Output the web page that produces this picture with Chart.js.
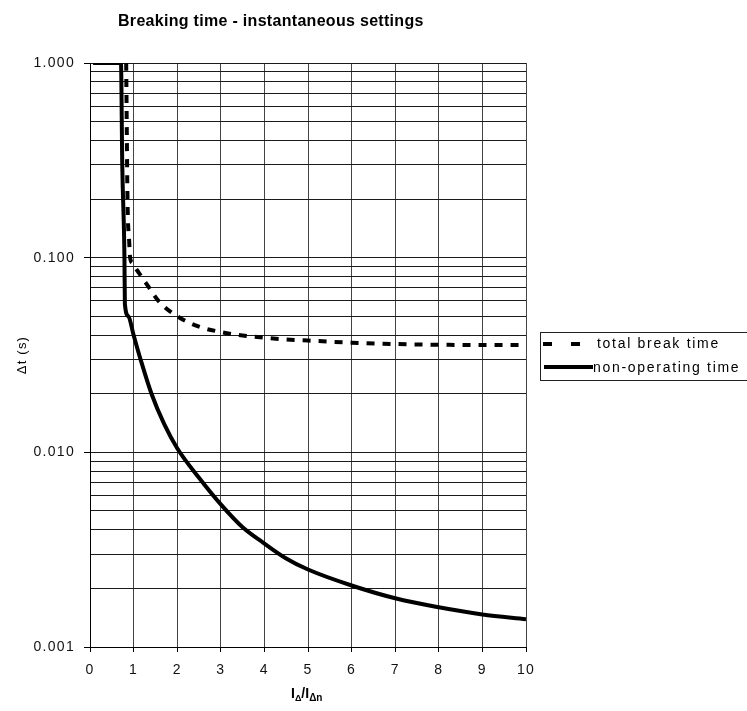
<!DOCTYPE html>
<html>
<head>
<meta charset="utf-8">
<title>Breaking time - instantaneous settings</title>
<script src="https://cdn.jsdelivr.net/npm/chart.js@4.4.1/dist/chart.umd.min.js"></script>
<style>
  html, body { margin:0; padding:0; background:#fff; overflow:hidden; }
  #breaking-chart { display:block; }
</style>
</head>
<body>
<canvas id="breaking-chart" width="747" height="711"></canvas>
<script>
// breaking time chart — log scale, two curves

const FONT = '"Liberation Sans", Arial, Helvetica, sans-serif';

// ── Data ──
const xBreak = [0.83, 0.86, 0.90, 0.92, 0.97, 1.05, 1.18, 1.36, 1.57, 2.0, 2.5, 3, 3.5, 4, 4.5, 5, 6, 7, 8, 9, 10];
const tBreak = [1.0, 0.2, 0.12, 0.1, 0.094, 0.088, 0.08, 0.07, 0.06, 0.05, 0.0442, 0.0415, 0.0398, 0.0388, 0.038, 0.0375, 0.0366, 0.036, 0.0357, 0.0356, 0.0356];

const xNonOp = [0.07, 0.71, 0.74, 0.79, 0.80, 0.88, 1.0, 1.16, 1.41, 1.7, 2, 2.5, 3, 3.5, 4, 4.5, 5, 6, 7, 8, 9, 10];
const tNonOp = [1.0, 1.0, 0.3, 0.1, 0.058, 0.05, 0.04, 0.03, 0.02, 0.014, 0.0105, 0.0074, 0.0054, 0.00412, 0.0034, 0.00285, 0.0025, 0.00207, 0.00178, 0.0016, 0.00147, 0.00139];

const seriesNames = ['total break time', 'non-operating time'];

// ── Axis ticks ──
const yGridValues = [
  0.001, 0.002, 0.003, 0.004, 0.005, 0.006, 0.007, 0.008, 0.009,
  0.01, 0.02, 0.03, 0.04, 0.05, 0.06, 0.07, 0.08, 0.09,
  0.1, 0.2, 0.3, 0.4, 0.5, 0.6, 0.7, 0.8, 0.9,
  1
];
const yMajorTicks = [0.001, 0.01, 0.1, 1];
const yTickLabels = ['0.001', '0.010', '0.100', '1.000'];
const xTickLabels = ['0', '1', '2', '3', '4', '5', '6', '7', '8', '9', '10'];

const toPoints = (xs, ys) => xs.map((x, i) => ({ x, y: ys[i] }));

// ── Extra drawing: title, axis titles, boxed legend ──
const decorPlugin = {
  id: 'decor',
  beforeDraw(chart) {
    // reference text is drawn wide, so space the tick glyphs a bit
    chart.ctx.letterSpacing = '1.3px';
  },
  afterDraw(chart) {
    const ctx = chart.ctx;
    ctx.save();
    ctx.fillStyle = '#000';

    // title
    ctx.letterSpacing = '0.3px';
    ctx.font = 'bold 16px ' + FONT;
    ctx.textAlign = 'left';
    ctx.textBaseline = 'middle';
    ctx.fillText('Breaking time - instantaneous settings', 118, 22);

    // y title
    ctx.save();
    ctx.letterSpacing = '1.2px';
    ctx.translate(22, 355);
    ctx.rotate(-Math.PI / 2);
    ctx.textAlign = 'center';
    ctx.font = '13px ' + FONT;
    ctx.fillText('\u0394t (s)', 0, 0);
    ctx.restore();

    // x title  I∆/I∆n
    ctx.letterSpacing = '0px';
    ctx.textBaseline = 'alphabetic';
    let x = 291;
    const base = 698;
    const part = (txt, font, dy) => { ctx.font = font; ctx.fillText(txt, x, base + dy); x += ctx.measureText(txt).width; };
    part('I', 'bold 14px ' + FONT, 0);
    part('\u0394', 'bold 9px ' + FONT, 3);
    part('/', 'bold 14px ' + FONT, 0);
    part('I', 'bold 14px ' + FONT, 0);
    part('\u0394n', 'bold 10px ' + FONT, 3);

    // legend box (runs off the right edge like the original)
    const lx = 540, ly = 332;
    ctx.strokeStyle = '#222';
    ctx.lineWidth = 1;
    ctx.strokeRect(lx + 0.5, ly + 0.5, 240, 48);

    ctx.strokeStyle = '#000';
    ctx.lineWidth = 4;
    ctx.lineCap = 'butt';
    ctx.setLineDash([9, 19]);
    ctx.beginPath(); ctx.moveTo(543, 344); ctx.lineTo(581, 344); ctx.stroke();
    ctx.setLineDash([]);
    ctx.beginPath(); ctx.moveTo(544, 367); ctx.lineTo(593, 367); ctx.stroke();

    ctx.letterSpacing = '1.7px';
    ctx.font = '14px ' + FONT;
    ctx.textBaseline = 'middle';
    ctx.fillText(seriesNames[0], 597, 344);
    ctx.fillText(seriesNames[1], 593, 368);
    ctx.restore();
  }
};

new Chart(document.getElementById('breaking-chart').getContext('2d'), {
  type: 'line',
  data: {
    datasets: [
      { label: seriesNames[0], data: toPoints(xBreak, tBreak), borderColor: '#000', borderWidth: 4,
        borderDash: [8, 8], borderCapStyle: 'butt', pointRadius: 0, fill: false, cubicInterpolationMode: 'monotone' },
      { label: seriesNames[1], data: toPoints(xNonOp, tNonOp), borderColor: '#000', borderWidth: 4,
        pointRadius: 0, fill: false, cubicInterpolationMode: 'monotone' },
    ]
  },
  options: {
    responsive: false,
    animation: false,
    layout: { padding: { left: 0, top: 63, right: 221, bottom: 0 } },
    plugins: { legend: { display: false }, title: { display: false }, tooltip: { enabled: false } },
    scales: {
      x: {
        type: 'linear', min: 0, max: 10,
        afterFit: s => { s.height = 64; },
        afterBuildTicks: s => { s.ticks = xTickLabels.map(v => ({ value: Number(v) })); },
        ticks: { autoSkip: false, maxRotation: 0, padding: 10, color: '#111', font: { size: 14, family: FONT },
                 callback: (v, i) => xTickLabels[i] },
        grid: { color: '#444', lineWidth: 1, tickLength: 5, tickColor: '#000' },
        border: { color: '#000', width: 1 },
      },
      y: {
        type: 'logarithmic', min: 0.001, max: 1,
        afterFit: s => { s.width = 90; },
        afterBuildTicks: s => { s.ticks = yGridValues.map(v => ({ value: v, major: yMajorTicks.includes(v) })); },
        ticks: { autoSkip: false, padding: 9, color: '#111', font: { size: 14, family: FONT },
                 callback: v => { const k = yMajorTicks.indexOf(v); return k >= 0 ? yTickLabels[k] : ''; } },
        grid: { color: '#1a1a1a', lineWidth: 1, tickLength: 6,
                tickColor: c => (c.tick && yMajorTicks.includes(c.tick.value)) ? '#000' : 'rgba(0,0,0,0)' },
        border: { color: '#000', width: 1 },
      }
    }
  },
  plugins: [decorPlugin]
});
</script>
</body>
</html>
